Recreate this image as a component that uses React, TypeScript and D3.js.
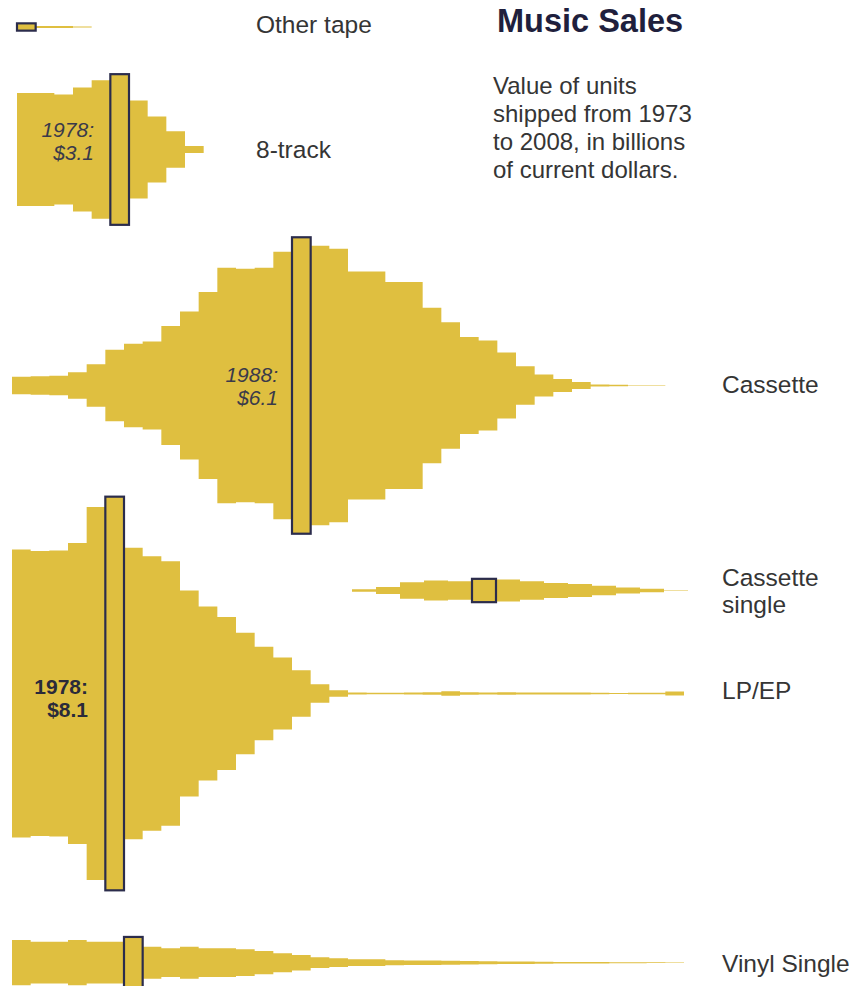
import React from 'react';
import * as d3 from 'd3';

// ---------- data (billions of current dollars) ----------
const otherTapeStart = 1973;
const otherTapeValues = [0.15, 0.04, 0.04, 0.02];

const eightTrackStart = 1973;
const eightTrackValues = [2.33, 2.33, 2.26, 2.55, 2.85, 3.1, 2.02, 1.36, 0.75, 0.14];

const cassetteStart = 1973;
const cassetteValues = [
  0.36, 0.38, 0.4, 0.55, 0.87, 1.47, 1.72, 1.81, 2.45, 3.05, 3.85, 4.85, 4.8, 4.85, 5.5, 6.1,
  5.75, 5.63, 4.69, 4.69, 4.26, 4.26, 3.2, 2.6, 2.0, 1.85, 1.36, 0.79, 0.45, 0.27, 0.14, 0.04,
  0.03, 0.006, 0.006, 0.004,
];

const cassetteSingleStart = 1987;
const cassetteSingleValues = [0.05, 0.14, 0.34, 0.41, 0.38, 0.48, 0.45, 0.38, 0.31, 0.27, 0.2, 0.12, 0.07, 0.008];

const lpStart = 1973;
const lpValues = [
  5.93, 5.86, 5.88, 6.19, 7.68, 8.1, 6.0, 5.65, 5.44, 4.24, 3.58, 3.15, 2.5, 1.92, 1.48, 0.96,
  0.38, 0.13, 0.04, 0.03, 0.03, 0.04, 0.05, 0.09, 0.05, 0.04, 0.05, 0.04, 0.04, 0.04, 0.04, 0.03,
  0.02, 0.03, 0.03, 0.08,
];

const vinylSingleStart = 1973;
const vinylSingleValues = [
  0.93, 0.86, 0.86, 0.93, 0.86, 0.86, 1.06, 0.66, 0.59, 0.66, 0.59, 0.59, 0.55, 0.48, 0.39, 0.32,
  0.22, 0.18, 0.14, 0.14, 0.1, 0.09, 0.09, 0.08, 0.07, 0.06, 0.05, 0.05, 0.04, 0.03, 0.03, 0.03,
  0.02, 0.02, 0.015, 0.008,
];

const seriesNames = ['Other tape', '8-track', 'Cassette', 'Cassette single', 'LP/EP', 'Vinyl Single'];
const labelLines = [['Other tape'], ['8-track'], ['Cassette'], ['Cassette', 'single'], ['LP/EP'], ['Vinyl Single']];
const annotated = ['8-track', 'Cassette', 'LP/EP'];

const titleText = 'Music Sales';
const subtitleLines = ['Value of units', 'shipped from 1973', 'to 2008, in billions', 'of current dollars.'];

// ---------- layout ----------
const W = 849;
const H = 986;
const K = 48.6; // px per billion (full thickness)
const FILL = '#dfbf40';
const BOX = '#2b2c4c';
const TEXT = '#353535';
const FONT = '"Liberation Sans", Arial, Helvetica, sans-serif';

type Layout = {
  cy: number;
  domain: [number, number];
  range: [number, number];
  labelX: number;
  labelY: number;
  annRight?: number;
  annY?: number;
  annBold?: boolean;
};

const layouts: Layout[] = [
  { cy: 27, domain: [1973, 2009], range: [17, 689], labelX: 256, labelY: 33 },
  { cy: 149.5, domain: [1973, 2009], range: [17, 689], labelX: 256, labelY: 158, annRight: 94, annY: 137 },
  { cy: 385.5, domain: [1973, 2009], range: [12, 684], labelX: 722, labelY: 393, annRight: 278, annY: 382 },
  { cy: 590.5, domain: [1987, 2001], range: [352, 688], labelX: 722, labelY: 586 },
  { cy: 693.5, domain: [1973, 2009], range: [12, 684], labelX: 722, labelY: 699, annRight: 88, annY: 694, annBold: true },
  { cy: 962.7, domain: [1973, 2009], range: [12, 684], labelX: 722, labelY: 972 },
];

const starts = [otherTapeStart, eightTrackStart, cassetteStart, cassetteSingleStart, lpStart, vinylSingleStart];
const valueSets = [otherTapeValues, eightTrackValues, cassetteValues, cassetteSingleValues, lpValues, vinylSingleValues];

const series = seriesNames.map((name, i) => ({
  name,
  start: starts[i],
  values: valueSets[i],
  lines: labelLines[i],
  layout: layouts[i],
}));

function Stream({ s }: { s: (typeof series)[number] }) {
  const L = s.layout;
  const x = d3.scaleLinear().domain(L.domain).range(L.range);
  const h = d3.scaleLinear().domain([0, 1]).range([0, K / 2]);
  const pts: [number, number][] = s.values.map((v, i) => [s.start + i, v]);
  pts.push([s.start + s.values.length, s.values[s.values.length - 1]]);
  const area = d3
    .area<[number, number]>()
    .x((d) => x(d[0]))
    .y0((d) => L.cy - h(d[1]))
    .y1((d) => L.cy + h(d[1]))
    .curve(d3.curveStepAfter);
  const peakIdx = d3.maxIndex(s.values);
  const peakYear = s.start + peakIdx;
  const peakVal = s.values[peakIdx];
  const showAnn = annotated.includes(s.name) && L.annRight !== undefined;
  return (
    <g>
      <path d={area(pts) || ''} fill={FILL} />
      <rect
        x={x(peakYear)}
        width={x(peakYear + 1) - x(peakYear)}
        y={L.cy - h(peakVal)}
        height={2 * h(peakVal)}
        fill={FILL}
        stroke={BOX}
        strokeWidth={2.2}
      />
      {showAnn && (
        <text
          x={L.annRight}
          y={L.annY}
          textAnchor="end"
          fontFamily={FONT}
          fontSize={21}
          fontStyle={L.annBold ? 'normal' : 'italic'}
          fontWeight={L.annBold ? 'bold' : 'normal'}
          fill={L.annBold ? '#2a2a3a' : '#3a3a4a'}
        >
          <tspan x={L.annRight}>{`${peakYear}:`}</tspan>
          <tspan x={L.annRight} dy={23}>{`$${peakVal}`}</tspan>
        </text>
      )}
      <text x={L.labelX} y={L.labelY} fontFamily={FONT} fontSize={24.5} fill={TEXT}>
        {s.lines.map((ln, j) => (
          <tspan key={j} x={L.labelX} dy={j === 0 ? 0 : 27}>
            {ln}
          </tspan>
        ))}
      </text>
    </g>
  );
}

export default function App() {
  return (
    <svg
      width={W}
      height={H}
      viewBox={`0 0 ${W} ${H}`}
      style={{ position: 'absolute', left: 0, top: 0, display: 'block', background: '#ffffff' }}
    >
      <rect x={0} y={0} width={W} height={H} fill="#ffffff" />
      {series.map((s) => (
        <Stream key={s.name} s={s} />
      ))}
      <text x={497} y={32} fontFamily={FONT} fontSize={32.5} fontWeight="bold" fill="#1f1f3d">
        {titleText}
      </text>
      <text x={493} y={94} fontFamily={FONT} fontSize={24} fill={TEXT}>
        {subtitleLines.map((ln, j) => (
          <tspan key={j} x={493} dy={j === 0 ? 0 : 28}>
            {ln}
          </tspan>
        ))}
      </text>
    </svg>
  );
}
